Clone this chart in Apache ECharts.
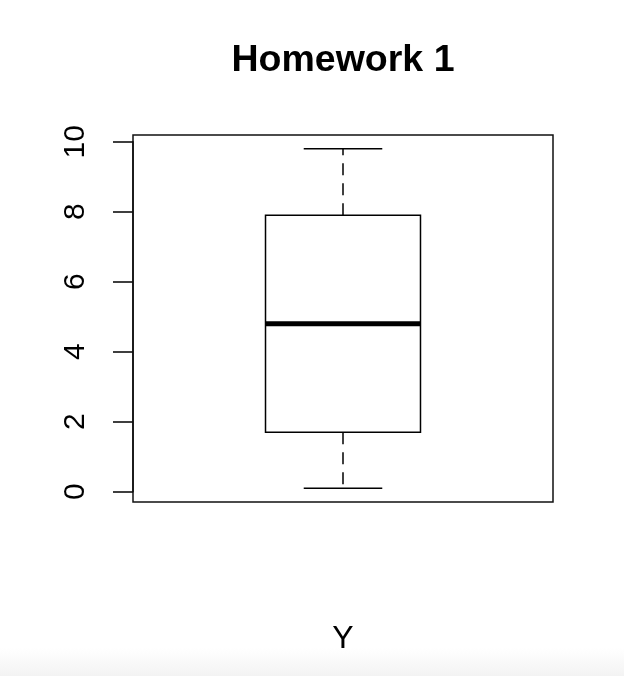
<!DOCTYPE html>
<html>
<head>
<meta charset="utf-8">
<script src="https://cdn.jsdelivr.net/npm/echarts@6/dist/echarts.min.js"></script>
<style>html,body{margin:0;padding:0;background:#fff;}#c{width:624px;height:676px;}</style>
</head>
<body>
<div id="c"></div>
<script>
// Data
const categories = ['Y'];
const boxStats = [[0.1, 1.7, 4.8, 7.9, 9.8]]; // min, Q1, median, Q3, max
const yTicks = [0, 2, 4, 6, 8, 10];
const chartTitle = 'Homework 1';

const GRID = {left: 133, right: 71, top: 141.7, bottom: 184.3};
const FRAME = {x: 133, y: 135, w: 420, h: 367};

const chart = echarts.init(document.getElementById('c'), null, {renderer: 'canvas'});
const font = 'Liberation Sans, Arial, Helvetica, sans-serif';

const seriesData = boxStats.map((s, i) => [i + 1].concat(s));

chart.setOption({
  backgroundColor: '#fff',
  animation: false,
  title: {
    text: chartTitle,
    left: 338, top: 37, textAlign: 'center',
    textStyle: {fontFamily: font, fontWeight: 'bold', fontSize: 37.5, color: '#000'}
  },
  grid: GRID,
  xAxis: {
    type: 'value', min: 0.5, max: 1.5,
    name: categories[0], nameLocation: 'middle', nameGap: 131,
    nameTextStyle: {fontFamily: font, fontSize: 32, color: '#000'},
    axisLine: {show: false}, axisTick: {show: false}, axisLabel: {show: false}, splitLine: {show: false}
  },
  yAxis: {
    type: 'value', min: yTicks[0], max: yTicks[yTicks.length - 1], interval: 2,
    axisLine: {show: true, lineStyle: {color: '#000', width: 1.5}},
    axisTick: {show: true, length: 20, lineStyle: {color: '#000', width: 1.5}},
    axisLabel: {rotate: 90, margin: 42, fontFamily: font, fontSize: 30, color: '#000'},
    splitLine: {show: false}
  },
  graphic: [
    {type: 'rect', shape: {x: 0, y: 648, width: 624, height: 28}, z: -10,
     style: {fill: new echarts.graphic.LinearGradient(0, 0, 0, 1, [{offset: 0, color: '#ffffff'}, {offset: 1, color: '#f3f3f3'}])}},
    {type: 'rect', shape: {x: FRAME.x, y: FRAME.y, width: FRAME.w, height: FRAME.h}, z: 100,
     style: {fill: 'none', stroke: '#111', lineWidth: 1.5}}
  ],
  series: [{
    type: 'custom',
    data: seriesData,
    renderItem: function (params, api) {
      const x = api.value(0);
      const mn = api.coord([x, api.value(1)]);
      const q1 = api.coord([x, api.value(2)]);
      const md = api.coord([x, api.value(3)]);
      const q3 = api.coord([x, api.value(4)]);
      const mx = api.coord([x, api.value(5)]);
      const bw = api.size([0.369, 0])[0];
      const cw = api.size([0.187, 0])[0];
      const cx = q1[0];
      const st = {stroke: '#000', lineWidth: 1.5, fill: 'none'};
      const dash = {stroke: '#000', lineWidth: 1.5, lineDash: [12, 8]};
      return {
        type: 'group',
        children: [
          {type: 'line', shape: {x1: cx, y1: q3[1], x2: cx, y2: mx[1]}, style: dash},
          {type: 'line', shape: {x1: cx, y1: q1[1], x2: cx, y2: mn[1]}, style: dash},
          {type: 'line', shape: {x1: cx - cw / 2, y1: mx[1], x2: cx + cw / 2, y2: mx[1]}, style: st},
          {type: 'line', shape: {x1: cx - cw / 2, y1: mn[1], x2: cx + cw / 2, y2: mn[1]}, style: st},
          {type: 'rect', shape: {x: cx - bw / 2, y: q3[1], width: bw, height: q1[1] - q3[1]}, style: {stroke: '#000', lineWidth: 1.5, fill: '#fff'}},
          {type: 'line', shape: {x1: cx - bw / 2, y1: md[1], x2: cx + bw / 2, y2: md[1]}, style: {stroke: '#000', lineWidth: 5}}
        ]
      };
    }
  }]
});
</script>
</body>
</html>
